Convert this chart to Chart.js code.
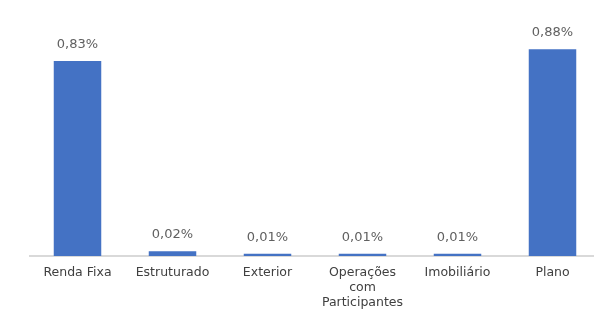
<!DOCTYPE html>
<html>
<head>
<meta charset="utf-8">
<script src="https://cdn.jsdelivr.net/npm/chart.js@4"></script>
<style>
html,body{margin:0;padding:0;background:#fff;overflow:hidden;}
#wrap{position:relative;width:600px;height:319px;}
</style>
</head>
<body>
<div id="wrap"><canvas id="c"></canvas></div>
<script>
const categories = ["Renda Fixa", "Estruturado", "Exterior", ["Operações", "com", "Participantes"], "Imobiliário", "Plano"];
const values = [0.83, 0.02, 0.01, 0.01, 0.01, 0.88];
const valueLabels = ["0,83%", "0,02%", "0,01%", "0,01%", "0,01%", "0,88%"];

const FONT = "'DejaVu Sans', sans-serif";

const labelPlugin = {
  id: 'valueLabels',
  afterDatasetsDraw(chart) {
    const ctx = chart.ctx;
    const meta = chart.getDatasetMeta(0);
    ctx.save();
    ctx.font = "13px " + FONT;
    ctx.fillStyle = "#606060";
    ctx.textAlign = "center";
    ctx.textBaseline = "bottom";
    meta.data.forEach((bar, i) => {
      ctx.fillText(valueLabels[i], bar.x, bar.y - 10);
    });
    ctx.restore();
  }
};

new Chart(document.getElementById('c'), {
  type: 'bar',
  data: {
    labels: categories,
    datasets: [{
      data: values,
      backgroundColor: '#4472C4',
      barPercentage: 0.5,
      categoryPercentage: 1.0
    }]
  },
  options: {
    responsive: true,
    maintainAspectRatio: false,
    animation: false,
    layout: { padding: { left: 30, right: 0, top: 21, bottom: 0 } },
    plugins: { legend: { display: false }, tooltip: { enabled: false } },
    scales: {
      y: { display: false, min: 0, max: 1 },
      x: {
        grid: { display: false, drawTicks: false },
        border: { display: true, color: '#d9d9d9', width: 2 },
        ticks: {
          color: '#404040',
          font: { family: FONT, size: 12.5, lineHeight: 1.2 },
          padding: 9,
          maxRotation: 0,
          autoSkip: false
        }
      }
    }
  },
  plugins: [labelPlugin]
});
</script>
</body>
</html>
